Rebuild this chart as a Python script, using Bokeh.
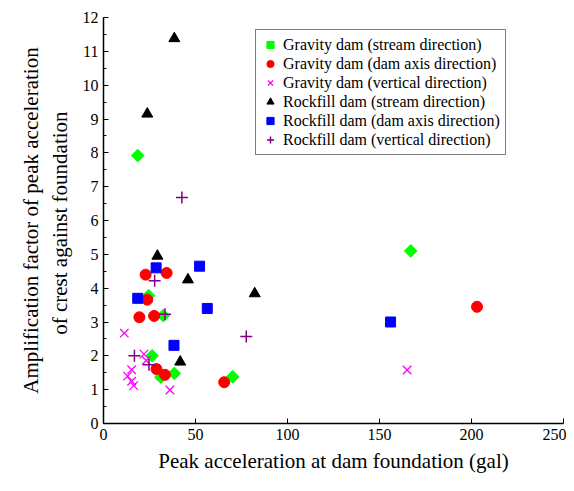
from bokeh.plotting import figure
from bokeh.embed import file_html
from bokeh.resources import INLINE
from bokeh.models import Range1d, Legend, LegendItem, FixedTicker

gs_x = [18.6, 24.5, 32.5, 26.4, 31.2, 38.5, 70.2, 167]
gs_y = [7.92, 3.78, 3.19, 2.0, 1.37, 1.48, 1.38, 5.1]
ga_x = [22.9, 34.3, 23.8, 19.5, 27.5, 28.8, 33.4, 65.6, 203]
ga_y = [4.40, 4.45, 3.66, 3.14, 3.18, 1.61, 1.44, 1.22, 3.45]
gv_x = [11.3, 22.0, 23.2, 15.3, 13.1, 15.3, 16.4, 36.1, 165]
gv_y = [2.67, 2.05, 1.86, 1.59, 1.40, 1.25, 1.12, 0.99, 1.58]
rs_x = [38.5, 23.8, 29.3, 45.9, 82.2, 41.7]
rs_y = [11.38, 9.15, 4.95, 4.25, 3.84, 1.82]
ra_x = [28.6, 52.2, 18.6, 56.4, 38.3, 156]
ra_y = [4.6, 4.65, 3.7, 3.40, 2.31, 3.0]
rv_x = [27.8, 33.4, 16.8, 24.7, 77.6, 42.6]
rv_y = [4.22, 3.23, 2.0, 1.74, 2.57, 6.68]

FONT = "Liberation Serif"
p = figure(width=566, height=475, output_backend="svg", toolbar_location=None,
           x_range=Range1d(0, 250), y_range=Range1d(0, 12),
           min_border_left=103, min_border_right=3, min_border_top=17, min_border_bottom=40)
p.grid.visible = False
p.outline_line_color = None

r1 = p.scatter(gs_x, gs_y, marker="square", angle=0.785398, size=9, color="#00ff00")
r2 = p.scatter(ga_x, ga_y, marker="circle", size=11, color="#ff0000")
r3 = p.scatter(gv_x, gv_y, marker="x", size=12, line_color="#ff00ff", line_width=1.3)
r4 = p.scatter(rs_x, rs_y, marker="triangle", size=11, color="black")
r5 = p.scatter(ra_x, ra_y, marker="square", size=10, color="#0000ff")
r6 = p.scatter(rv_x, rv_y, marker="cross", size=12, line_color="#800080", line_width=1.5)

labels = ["Gravity dam (stream direction)", "Gravity dam (dam axis direction)",
          "Gravity dam (vertical direction)", "Rockfill dam (stream direction)",
          "Rockfill dam (dam axis direction)", "Rockfill dam (vertical direction)"]
leg = Legend(items=[LegendItem(label=l, renderers=[r]) for l, r in zip(labels, [r1, r2, r3, r4, r5, r6])],
             location=(152, 268))
leg.label_text_font = FONT
leg.label_text_font_size = "16px"
leg.label_text_color = "black"
leg.border_line_color = "black"
leg.border_line_width = 1.2
leg.spacing = 0
leg.padding = 5
leg.margin = 0
leg.glyph_width = 18
leg.label_height = 19
leg.glyph_height = 19
leg.label_standoff = 4
p.add_layout(leg, "center")

p.xaxis.axis_label = "Peak acceleration at dam foundation (gal)"
p.yaxis.axis_label = "Amplification factor of peak acceleration\nof  crest against foundation"
p.xaxis.ticker = FixedTicker(ticks=[0, 50, 100, 150, 200, 250])
p.yaxis.ticker = FixedTicker(ticks=list(range(13)), minor_ticks=[i * 0.5 for i in range(25)])
for ax in (p.xaxis[0], p.yaxis[0]):
    ax.axis_label_text_font = FONT
    ax.axis_label_text_font_size = "21px"
    ax.axis_label_text_font_style = "normal"
    ax.axis_label_text_color = "black"
    ax.major_label_text_font = FONT
    ax.major_label_text_font_size = "16px"
    ax.major_label_text_color = "black"
    ax.major_tick_in = 5
    ax.major_tick_out = 0
    ax.minor_tick_in = 3
    ax.minor_tick_out = 0
    ax.axis_line_width = 1.5
    ax.axis_line_color = "black"
    ax.major_tick_line_color = "black"
    ax.minor_tick_line_color = "black"
p.xaxis.minor_tick_line_color = None
p.xaxis.axis_label_standoff = 6
p.yaxis.axis_label_standoff = 8

open("out.html", "w").write(file_html(p, INLINE))
